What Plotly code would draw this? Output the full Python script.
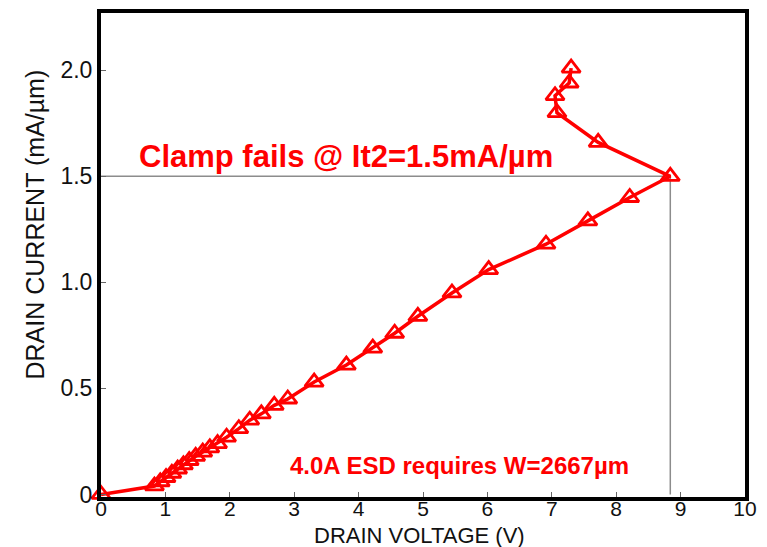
import plotly.graph_objects as go

# Drain voltage (V) and drain current (mA/um)
drain_voltage = [0, 0.83, 0.92, 1.01, 1.10, 1.19, 1.28, 1.37, 1.47, 1.58, 1.69, 1.81,
                 1.95, 2.14, 2.31, 2.49, 2.69, 2.90, 3.31, 3.81, 4.22, 4.56, 4.92,
                 5.45, 6.02, 6.91, 7.56, 8.21, 8.84, 7.72, 7.08, 7.05, 7.27, 7.30]
drain_current = [0, 0.04, 0.06, 0.08, 0.10, 0.12, 0.14, 0.16, 0.18, 0.20, 0.22, 0.24,
                 0.27, 0.31, 0.35, 0.38, 0.42, 0.45, 0.53, 0.61, 0.69, 0.76, 0.84,
                 0.95, 1.06, 1.18, 1.29, 1.40, 1.50, 1.66, 1.80, 1.88, 1.94, 2.01]

# Failure point (It2)
it2_voltage = 8.84
it2_current = 1.5

x_ticks = [0, 1, 2, 3, 4, 5, 6, 7, 8, 9, 10]
x_ticktext = [str(v) for v in x_ticks]
y_ticks = [0, 0.5, 1.0, 1.5, 2.0]
y_ticktext = ["0", "0.5", "1.0", "1.5", "2.0"]

FONT = "Liberation Sans, Arial, sans-serif"
RED = "#ff0000"
INK = "#111111"

fig = go.Figure()

# Gray reference lines to failure point
fig.add_trace(go.Scatter(
    x=[0, it2_voltage, it2_voltage], y=[it2_current, it2_current, 0],
    mode="lines", line=dict(color="#8c8c8c", width=1.5),
    hoverinfo="skip", showlegend=False,
))

fig.add_trace(go.Scatter(
    x=drain_voltage, y=drain_current,
    mode="lines+markers",
    line=dict(color=RED, width=3.5),
    marker=dict(symbol="triangle-up-open", size=16, color=RED,
                line=dict(color=RED, width=2.8)),
    showlegend=False, cliponaxis=False,
))

fig.add_annotation(
    x=3.8, y=1.595, xref="x", yref="y",
    text="Clamp fails @ It2=1.5mA/µm", showarrow=False,
    font=dict(family=FONT, size=31, color=RED, weight="bold"),
    xanchor="center", yanchor="middle",
)
fig.add_annotation(
    x=5.57, y=0.135, xref="x", yref="y",
    text="4.0A ESD requires W=2667µm", showarrow=False,
    font=dict(family=FONT, size=24, color=RED, weight="bold"),
    xanchor="center", yanchor="middle",
)

# Axis titles
fig.add_annotation(
    x=0.495, y=0, xref="paper", yref="paper", yshift=-38,
    text="DRAIN VOLTAGE (V)", showarrow=False,
    font=dict(family=FONT, size=22, color=INK),
    xanchor="center", yanchor="middle",
)
fig.add_annotation(
    x=0, y=0.563, xref="paper", yref="paper", xshift=-66,
    text="DRAIN CURRENT (mA/µm)", showarrow=False, textangle=-90,
    font=dict(family=FONT, size=25, color=INK),
    xanchor="center", yanchor="middle",
)

fig.update_layout(
    width=767, height=547, autosize=False,
    margin=dict(l=101, r=22, t=9, b=50),
    paper_bgcolor="white", plot_bgcolor="white",
    font=dict(family=FONT, size=22, color=INK),
    xaxis=dict(
        range=[0, 10], tickvals=x_ticks, ticktext=x_ticktext,
        showgrid=False, zeroline=False,
        showline=True, linecolor="black", linewidth=4, mirror=True,
        ticks="inside", ticklen=5, tickwidth=1, tickcolor="#666666",
        ticklabelstandoff=-10,
        tickfont=dict(family=FONT, size=21, color=INK),
    ),
    yaxis=dict(
        range=[-0.012, 2.27], tickvals=y_ticks, ticktext=y_ticktext,
        showgrid=False, zeroline=False,
        showline=True, linecolor="black", linewidth=4, mirror=True,
        ticks="inside", ticklen=5, tickwidth=1, tickcolor="#666666",
        tickfont=dict(family=FONT, size=23, color=INK),
    ),
)

fig.write_html("out.html")
